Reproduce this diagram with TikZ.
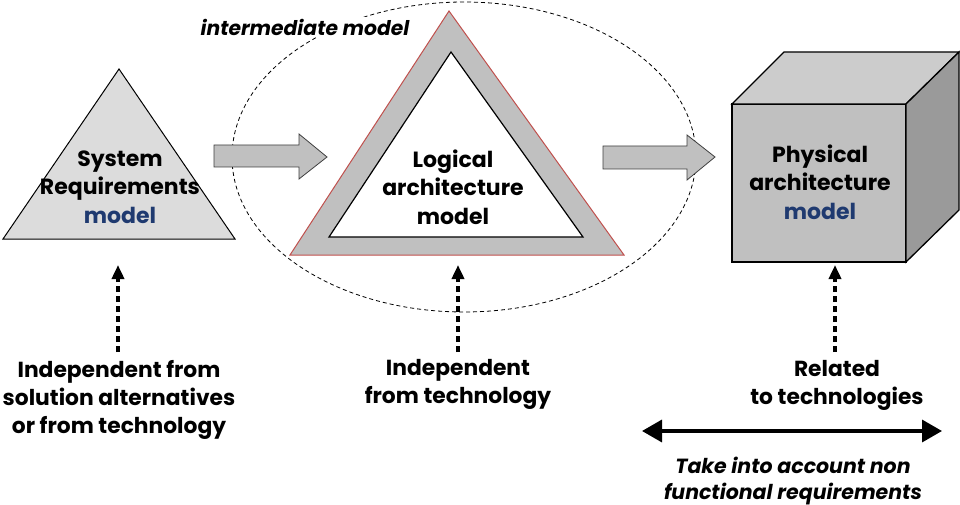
\documentclass[tikz,border=0pt]{standalone}
\usepackage{fontspec}
\setmainfont{Poppins}
\usetikzlibrary{arrows.meta}
\definecolor{mblue}{HTML}{1F3A70}
\definecolor{triA}{HTML}{DCDCDC}
\definecolor{triB}{HTML}{C0C0C0}
\definecolor{redb}{HTML}{C0504D}
\definecolor{arrfill}{HTML}{C0C0C0}
\definecolor{cubeF}{HTML}{C0C0C0}
\definecolor{cubeT}{HTML}{CCCCCC}
\definecolor{cubeR}{HTML}{9A9A9A}
\begin{document}
\begin{tikzpicture}[x=1pt,y=-1pt,
  lbl/.style={font=\fontsize{22}{28.5}\selectfont\bfseries, align=center, inner sep=0pt},
  blbl/.style={font=\fontsize{21.8}{28}\selectfont\bfseries, align=center, inner sep=0pt},
  ilbl/.style={font=\fontsize{20.5}{25.5}\selectfont\bfseries\itshape, align=center, inner sep=0pt},
  barrow/.style={fill=arrfill, draw=black!75, line width=0.8pt, line join=miter},
  dotarrow/.style={line width=3.5pt, dash pattern=on 6pt off 4pt, -{Triangle[length=14pt,width=12pt]}},
  dblarrow/.style={line width=3.5pt, {Triangle[length=20pt,width=22pt]}-{Triangle[length=20pt,width=22pt]}}
]
\useasboundingbox[fill=white] (0,0) rectangle (960,505);

% dashed ellipse
\draw[dash pattern=on 4pt off 3pt, line width=0.8pt] (464,157) ellipse [x radius=232, y radius=155];
\node[font=\fontsize{20.3}{24}\selectfont\bfseries\itshape, fill=white, inner sep=2pt] (inter) at (305,27) {intermediate model};

% left triangle
\draw[fill=triA, line width=1pt, line join=miter] (119,69) -- (235,239) -- (3,239) -- cycle;
\node[lbl] (sys) at (120,187) {System\\Requirements\\\textcolor{mblue}{model}};

% block arrows
\draw[barrow] (214,145) -- (299,145) -- (299,134) -- (327,157) -- (299,179) -- (299,167) -- (214,167) -- cycle;
\draw[barrow] (603,146) -- (687,146) -- (687,135) -- (715,157) -- (687,180) -- (687,169) -- (603,169) -- cycle;

% big triangle
\draw[fill=triB, draw=redb, line width=1pt, line join=miter] (449,11) -- (624,255) -- (290,255) -- cycle;
\draw[fill=white, draw=black, line width=1.2pt, line join=miter] (451,52) -- (583,237) -- (329,237) -- cycle;
\node[lbl] (log) at (453,187) {Logical\\architecture\\model};

% cube
\draw[fill=cubeF, line width=1.3pt, line join=miter] (732,104) rectangle (906,262);
\draw[fill=cubeT, line width=1.3pt, line join=miter] (732,104) -- (784,52) -- (959,52) -- (906,104) -- cycle;
\draw[fill=cubeR, line width=1.3pt, line join=miter] (906,104) -- (959,52) -- (959,210) -- (906,262) -- cycle;
\node[lbl] (phy) at (820,182) {Physical\\architecture\\\textcolor{mblue}{model}};

% bottom labels
\node[blbl] (t1) at (119,400) {Independent from\\solution alternatives\\or from technology};
\node[blbl] (t2) at (458,384) {Independent\\from technology};
\node[blbl] (t3) at (837,385) {Related\\to technologies};
\node[ilbl] (t4) at (793,481) {Take into account non\\functional requirements};

% dotted arrows
\coordinate (d1s) at (118,352); \coordinate (d1e) at (118,265);
\coordinate (d2s) at (458,352); \coordinate (d2e) at (458,265);
\coordinate (d3s) at (835,352); \coordinate (d3e) at (835,265);
\draw[dotarrow] (d1s) -- (d1e);
\draw[dotarrow] (d2s) -- (d2e);
\draw[dotarrow] (d3s) -- (d3e);

% double arrow
\coordinate (hl) at (642,431); \coordinate (hr) at (942,431);
\draw[dblarrow] (hl) -- (hr);
\end{tikzpicture}
\end{document}
